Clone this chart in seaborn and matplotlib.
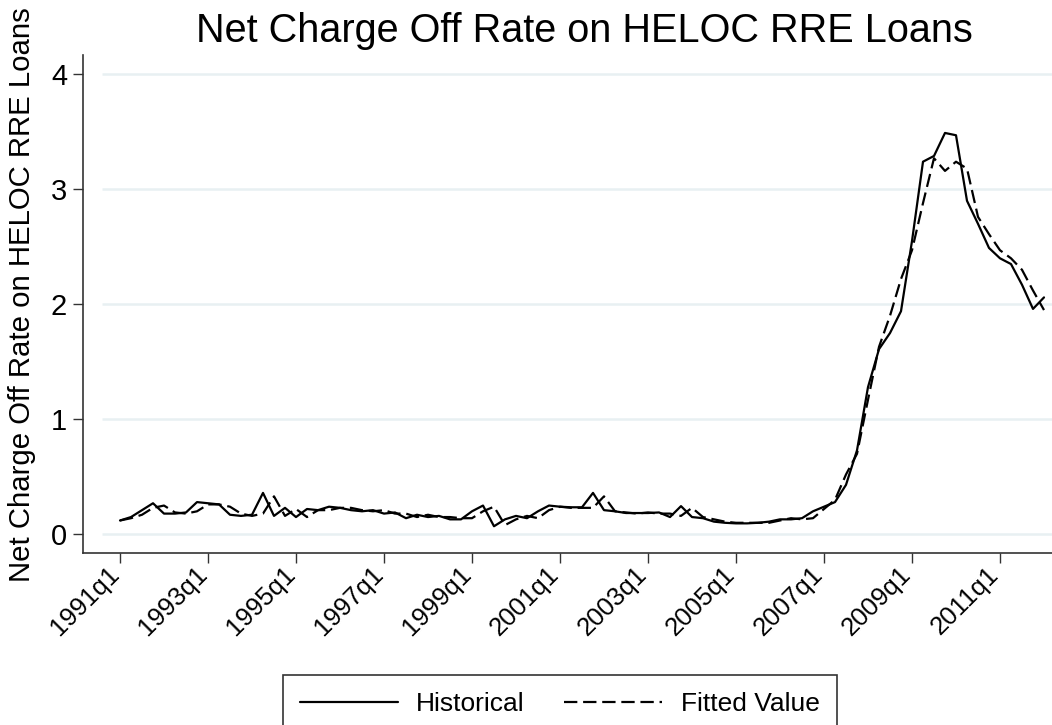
import numpy as np
import pandas as pd
import matplotlib
matplotlib.use("Agg")
import matplotlib.pyplot as plt
import seaborn as sns

# quarterly net charge-off rate, 1991q1 - 2012q1
quarters = [str(p).replace("Q", "q") for p in pd.period_range("1991Q1", "2012Q1", freq="Q")]

historical = [
    0.12, 0.15, 0.21, 0.27, 0.18, 0.18, 0.19, 0.28,   # 1991-1992
    0.27, 0.26, 0.17, 0.16, 0.17, 0.36, 0.16, 0.23,   # 1993-1994
    0.15, 0.22, 0.21, 0.24, 0.23, 0.21, 0.20, 0.21,   # 1995-1996
    0.18, 0.19, 0.14, 0.17, 0.15, 0.16, 0.13, 0.13,   # 1997-1998
    0.20, 0.25, 0.07, 0.13, 0.16, 0.14, 0.20, 0.25,   # 1999-2000
    0.24, 0.235, 0.235, 0.36, 0.21, 0.20, 0.185, 0.185,  # 2001-2002
    0.185, 0.19, 0.15, 0.245, 0.15, 0.14, 0.11, 0.10,   # 2003-2004
    0.095, 0.095, 0.10, 0.11, 0.13, 0.13, 0.14, 0.20,   # 2005-2006
    0.24, 0.28, 0.43, 0.73, 1.28, 1.61, 1.75, 1.94,   # 2007-2008
    2.55, 3.24, 3.29, 3.49, 3.47, 2.90, 2.70, 2.49,   # 2009-2010
    2.40, 2.35, 2.17, 1.96, 2.06,                     # 2011-2012q1
]

fitted = [
    0.12, 0.14, 0.17, 0.23, 0.25, 0.19, 0.18, 0.20,
    0.26, 0.26, 0.24, 0.18, 0.16, 0.18, 0.33, 0.16,
    0.22, 0.15, 0.21, 0.21, 0.23, 0.23, 0.21, 0.20,
    0.21, 0.18, 0.18, 0.15, 0.17, 0.15, 0.15, 0.14,
    0.14, 0.20, 0.24, 0.08, 0.13, 0.16, 0.14, 0.21,
    0.24, 0.23, 0.23, 0.23, 0.33, 0.20, 0.19, 0.18,
    0.19, 0.18, 0.18, 0.16, 0.23, 0.15, 0.13, 0.11,
    0.10, 0.10, 0.10, 0.10, 0.12, 0.14, 0.13, 0.14,
    0.22, 0.30, 0.52, 0.70, 1.17, 1.63, 1.90, 2.22,
    2.47, 2.88, 3.27, 3.16, 3.24, 3.18, 2.76, 2.61,
    2.47, 2.40, 2.30, 2.12, 1.95,
]

tick_labels = ["1991q1", "1993q1", "1995q1", "1997q1", "1999q1", "2001q1",
               "2003q1", "2005q1", "2007q1", "2009q1", "2011q1"]
y_ticks = [0, 1, 2, 3, 4]

df = pd.DataFrame({"t": np.arange(len(quarters)), "quarter": quarters,
                   "Historical": historical, "Fitted Value": fitted})

sns.set_theme(style="white")
plt.rcParams["font.family"] = ["Liberation Sans", "DejaVu Sans"]
plt.rcParams["text.color"] = "black"

W, H = 1052, 725
fig = plt.figure(figsize=(W / 100, H / 100), dpi=100)
ax = fig.add_axes([83 / W, 1 - 553 / H, (W - 83) / W, (553 - 55) / H])

sns.lineplot(data=df, x="t", y="Historical", ax=ax, color="black", lw=1.6,
             label="Historical")
sns.lineplot(data=df, x="t", y="Fitted Value", ax=ax, color="black", lw=1.6,
             dashes=(6, 2.6), label="Fitted Value")

# plot region in quarters (11 px per quarter, 1991q1 at x=120px)
ax.set_xlim(-37 / 11, (W - 120) / 11)
ax.set_ylim((534.3 - 553) / 115, (534.3 - 55) / 115)

# light gridlines, starting a bit inside the y axis like Stata
ax.hlines(y_ticks, -1.66, ax.get_xlim()[1], color="#e8f0f2", lw=1.8, zorder=0)

tick_pos = [quarters.index(q) for q in tick_labels]
ax.set_xticks(tick_pos)
ax.set_xticklabels(tick_labels, rotation=45, ha="right", va="baseline",
                   rotation_mode="anchor", fontsize=18.5)
ax.set_yticks(y_ticks)
ax.set_yticklabels([str(v) for v in y_ticks], fontsize=21)
ax.tick_params(axis="both", direction="out", length=7.5, width=1.0,
               color="#333333", labelcolor="black", bottom=True, left=True)
ax.tick_params(axis="y", pad=4)
ax.tick_params(axis="x", pad=9)
ax.set_xlabel("")
ax.set_ylabel("")

for side in ["top", "right"]:
    ax.spines[side].set_visible(False)
for side in ["left", "bottom"]:
    ax.spines[side].set_color("#333333")
    ax.spines[side].set_linewidth(1.2)

ax.legend_.remove()
handles, labels = ax.get_legend_handles_labels()
leg = fig.legend(handles, labels, loc="upper left", ncol=2,
                 bbox_to_anchor=(283 / W, 1 - 675 / H),
                 bbox_transform=fig.transFigure, fontsize=19, frameon=True,
                 fancybox=False, edgecolor="black", handlelength=3.7,
                 handletextpad=0.7, columnspacing=1.5, borderpad=0.65,
                 borderaxespad=0)
leg.get_frame().set_linewidth(1.2)

fig.text(584 / W, 1 - 42 / H, "Net Charge Off Rate on HELOC RRE Loans",
         ha="center", va="baseline", fontsize=28.5)
fig.text(22 / W, 1 - 295 / H, "Net Charge Off Rate on HELOC RRE Loans",
         ha="center", va="center", rotation=90, fontsize=21.2)

fig.savefig("out.png", dpi=100, facecolor="white")
